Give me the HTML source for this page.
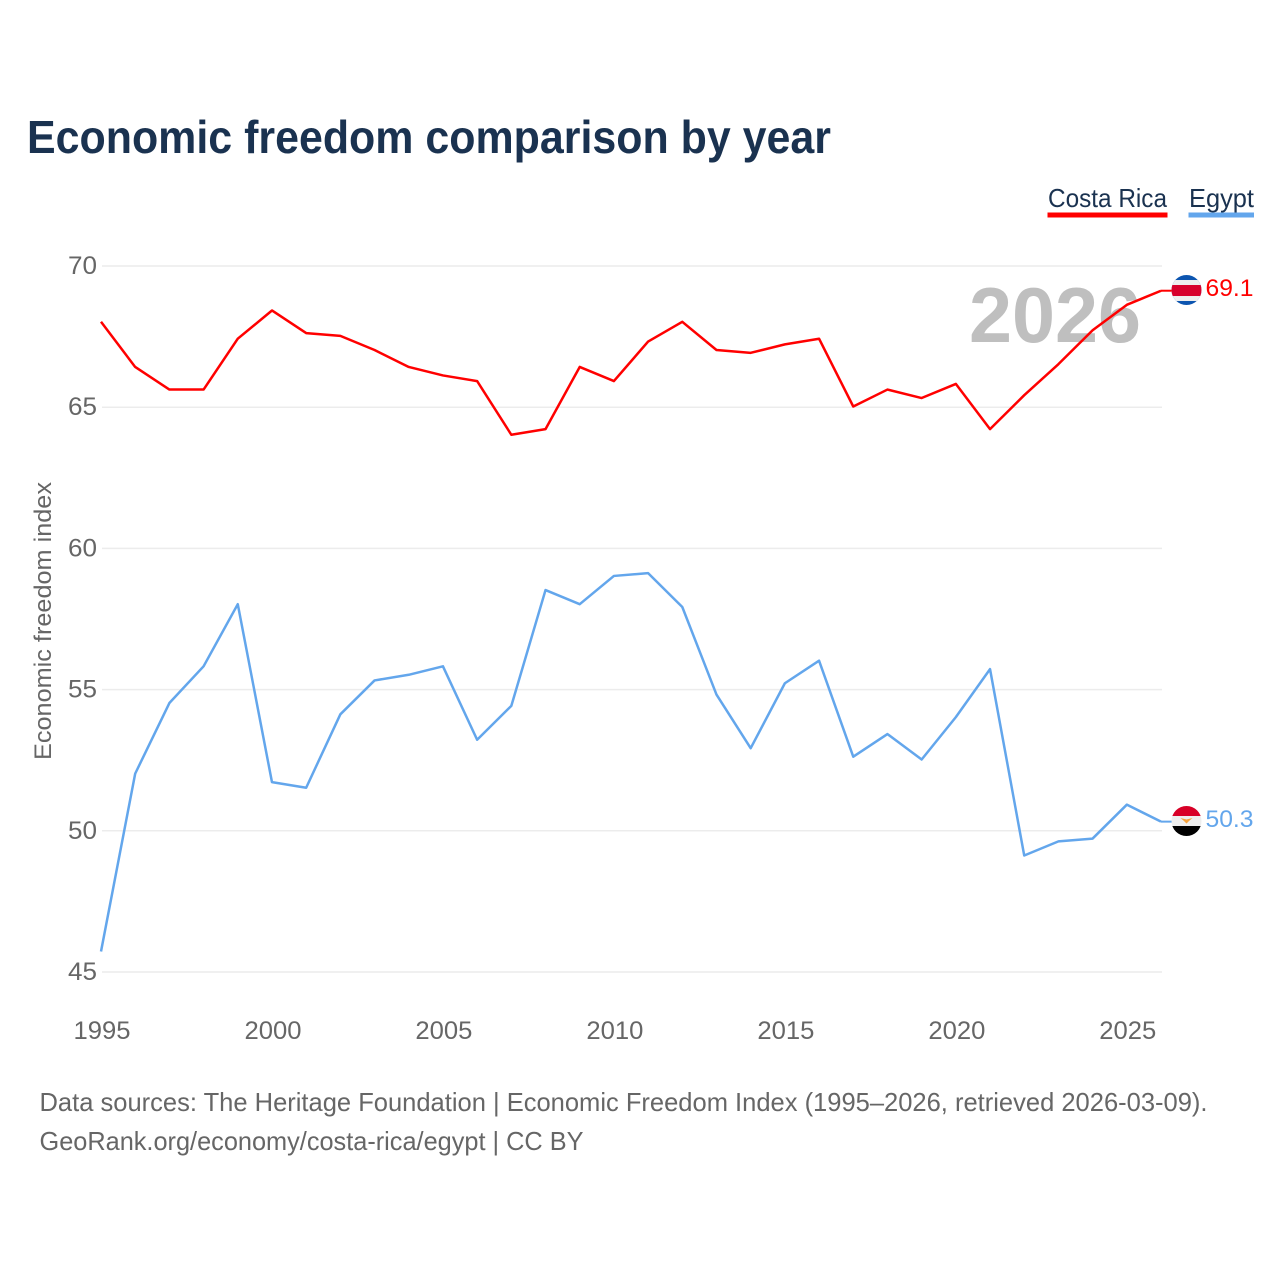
<!DOCTYPE html>
<html lang="en">
<head>
<meta charset="utf-8">
<title>Economic freedom comparison by year</title>
<style>
html,body{margin:0;padding:0;background:#fff;width:1280px;height:1280px;overflow:hidden}
svg{display:block;font-family:"Liberation Sans",sans-serif}
</style>
</head>
<body>
<svg id="chart" xmlns="http://www.w3.org/2000/svg" width="1280" height="1280" viewBox="0 0 1280 1280">
  <rect width="1280" height="1280" fill="#fff"/>
  <text x="27" y="153" font-size="46" font-weight="700" fill="#1a3250" textLength="804" lengthAdjust="spacingAndGlyphs">Economic freedom comparison by year</text>

  <g id="grid"></g>
  <g id="yticks"></g>
  <g id="xticks"></g>
  <text transform="translate(51,760) rotate(-90)" font-size="24" fill="#666" textLength="278" lengthAdjust="spacingAndGlyphs">Economic freedom index</text>

  <text x="969" y="342" font-size="78" font-weight="700" fill="#bfbfbf" textLength="172" lengthAdjust="spacingAndGlyphs">2026</text>

  <g id="series" transform="translate(-1,-0.7)"></g>

  <g>
    <text x="1048" y="207" font-size="26" fill="#1a3250" textLength="119" lengthAdjust="spacingAndGlyphs">Costa Rica</text>
    <rect x="1047.500" y="212.500" width="120" height="5" fill="#ff0000"/>
  </g>
  <g>
    <text x="1189" y="207" font-size="26" fill="#1a3250" textLength="65" lengthAdjust="spacingAndGlyphs">Egypt</text>
    <rect x="1188.500" y="212.500" width="65.500" height="5" fill="#63a6ec"/>
  </g>

  <defs>
    <clipPath id="flag-clip-cr"><circle id="clip-cr-circle" cx="1186.500" cy="290" r="15"/></clipPath>
    <clipPath id="flag-clip-eg"><circle id="clip-eg-circle" cx="1186.500" cy="821" r="15"/></clipPath>
  </defs>
  <g id="flag-cr">
    <g clip-path="url(#flag-clip-cr)">
      <rect x="1171" y="275" width="31" height="31" fill="#0c55b0"/>
      <rect x="1171" y="280" width="31" height="21" fill="#eeeeee"/>
      <rect x="1171" y="285" width="31" height="11" fill="#d7002c"/>
    </g>
  </g>
  <g id="flag-eg">
    <g clip-path="url(#flag-clip-eg)">
      <rect x="1171" y="806" width="31" height="10" fill="#d80027"/>
      <rect x="1171" y="816" width="31" height="10" fill="#eeeeee"/>
      <rect x="1171" y="826" width="31" height="11" fill="#000000"/>
      <path d="M1180.500 818 L1186.500 819.500 L1192.500 818 L1189 821 L1186.500 823.500 L1184 821 Z" fill="#f5a23c"/>
    </g>
  </g>
  <text id="label-cr" x="1205.500" y="296" font-size="24" fill="#ff0000" textLength="48" lengthAdjust="spacingAndGlyphs"></text>
  <text id="label-eg" x="1205.500" y="827" font-size="24" fill="#63a6ec" textLength="48" lengthAdjust="spacingAndGlyphs"></text>

  <text x="39.500" y="1111" font-size="26" fill="#666" textLength="1168" lengthAdjust="spacingAndGlyphs">Data sources: The Heritage Foundation | Economic Freedom Index (1995–2026, retrieved 2026-03-09).</text>
  <text x="39.500" y="1150" font-size="26" fill="#666" textLength="544" lengthAdjust="spacingAndGlyphs">GeoRank.org/economy/costa-rica/egypt | CC BY</text>
</svg>
<script>
const years = [1995,1996,1997,1998,1999,2000,2001,2002,2003,2004,2005,2006,2007,2008,2009,2010,2011,2012,2013,2014,2015,2016,2017,2018,2019,2020,2021,2022,2023,2024,2025,2026];
const costaRica = [68.0,66.4,65.6,65.6,67.4,68.4,67.6,67.5,67.0,66.4,66.1,65.9,64.0,64.2,66.4,65.9,67.3,68.0,67.0,66.9,67.2,67.4,65.0,65.6,65.3,65.8,64.2,65.4,66.5,67.7,68.6,69.1];
const egypt = [45.7,52.0,54.5,55.8,58.0,51.7,51.5,54.1,55.3,55.5,55.8,53.2,54.4,58.5,58.0,59.0,59.1,57.9,54.8,52.9,55.2,56.0,52.6,53.4,52.5,54.0,55.7,49.1,49.6,49.7,50.9,50.3];
const yTickValues = [45,50,55,60,65,70];
const xTickValues = [1995,2000,2005,2010,2015,2020,2025];

const NS = 'http://www.w3.org/2000/svg';
const plot = {left:102, right:1162, top:266, bottom:972, xMin:1995, xMax:2026, yMin:45, yMax:70};
function xScale(v){ return plot.left + (v - plot.xMin) / (plot.xMax - plot.xMin) * (plot.right - plot.left); }
function yScale(v){ return plot.bottom - (v - plot.yMin) / (plot.yMax - plot.yMin) * (plot.bottom - plot.top); }
function make(tag, attrs, parent){
  const el = document.createElementNS(NS, tag);
  for (const k in attrs) el.setAttribute(k, attrs[k]);
  parent.appendChild(el);
  return el;
}

const grid = document.getElementById('grid');
const yticks = document.getElementById('yticks');
yTickValues.forEach(function(v){
  const line = make('line', {x1:plot.left, x2:plot.right, y1:yScale(v), y2:yScale(v), stroke:'#ececec', 'stroke-width':1.500}, grid);
  
  
  const t = make('text', {x:97, y:yScale(v) + 8, 'font-size':25, fill:'#666', 'text-anchor':'end', textLength:29, lengthAdjust:'spacingAndGlyphs'}, yticks);
  t.textContent = String(v);
  
  
});

const xticks = document.getElementById('xticks');
xTickValues.forEach(function(v){
  const t = make('text', {x:xScale(v), y:1039, 'font-size':25, fill:'#666', 'text-anchor':'middle', textLength:57, lengthAdjust:'spacingAndGlyphs'}, xticks);
  t.textContent = String(v);
  
  
});

function pointsFor(values){
  return values.map(function(v, i){ return xScale(years[i]).toFixed(2) + ',' + yScale(v).toFixed(2); }).join(' ');
}
const seriesGroup = document.getElementById('series');
const lineEgypt = make('polyline', {points:pointsFor(egypt), fill:'none', stroke:'#63a6ec', 'stroke-width':2.500, 'stroke-linejoin':'round'}, seriesGroup);


const lineCR = make('polyline', {points:pointsFor(costaRica), fill:'none', stroke:'#ff0000', 'stroke-width':2.500, 'stroke-linejoin':'round'}, seriesGroup);



const lastCR = costaRica[costaRica.length - 1];
const lastEg = egypt[egypt.length - 1];
const stubCR = make('line', {x1:plot.right, x2:1173, y1:yScale(lastCR), y2:yScale(lastCR), stroke:'#ff0000', 'stroke-width':2}, seriesGroup);


const stubEg = make('line', {x1:plot.right, x2:1173, y1:yScale(lastEg), y2:yScale(lastEg), stroke:'#63a6ec', 'stroke-width':2}, seriesGroup);



const dyCR = yScale(lastCR) - 291.41;
const dyEg = yScale(lastEg) - 822.33;
document.getElementById('flag-cr').setAttribute('transform', 'translate(0,' + dyCR + ')');
document.getElementById('flag-eg').setAttribute('transform', 'translate(0,' + dyEg + ')');
const labelCR = document.getElementById('label-cr');
labelCR.textContent = lastCR.toFixed(1);
labelCR.setAttribute('y', 296 + dyCR);
const labelEg = document.getElementById('label-eg');
labelEg.textContent = lastEg.toFixed(1);
labelEg.setAttribute('y', 827 + dyEg);
</script>
</body>
</html>
